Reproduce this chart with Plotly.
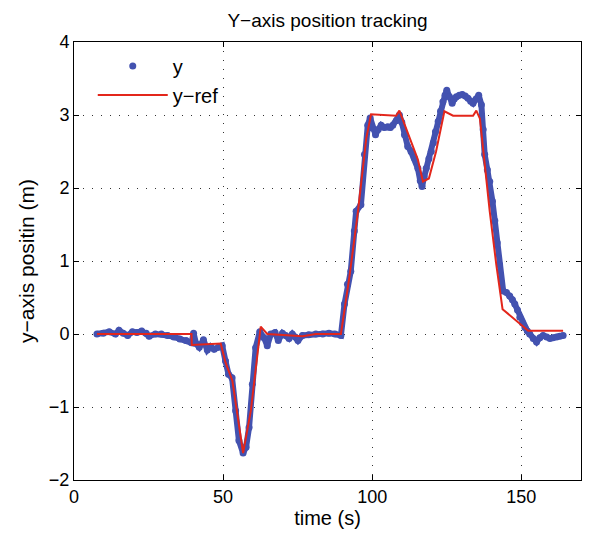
import plotly.graph_objects as go

# Measured y position (blue dots)
t_y = [7.7, 9.8, 11.8, 13.9, 15.1, 16.5, 18.0, 19.6, 21.1, 22.7, 24.2, 25.2, 27.3, 29.3,
       31.4, 33.5, 35.5, 37.6, 39.4, 40.1, 40.9, 42.0, 43.4, 44.7, 45.8, 47.0, 48.4, 49.7,
       50.8, 51.8, 53.0, 54.2, 55.3, 56.7, 57.7, 58.7, 59.8, 60.9, 62.3, 63.7, 64.8, 66.0,
       67.4, 68.5, 69.9, 71.0, 72.1, 73.2, 74.2, 75.1, 76.6, 78.7, 81.1, 83.4, 85.5, 87.5,
       89.5, 90.7, 91.7, 92.8, 94.0, 94.6, 96.2, 97.4, 98.5, 99.3, 100.1, 101.1, 102.0, 103.0,
       104.0, 105.2, 106.1, 106.9, 108.1, 109.1, 109.9, 110.8, 111.9, 113.0, 114.1, 115.3,
       116.1, 116.7, 117.4, 118.1, 119.0, 119.8, 120.5, 121.2, 122.1, 122.9, 123.7, 124.4,
       125.0, 125.9, 126.8, 127.5, 128.2, 129.2, 130.2, 131.2, 132.1, 133.0, 133.8, 134.8,
       135.7, 136.6, 137.2, 137.7, 138.6, 139.4, 140.3, 141.1, 141.9, 142.7, 143.9, 145.0,
       146.1, 147.0, 147.8, 148.7, 149.5, 150.4, 151.2, 152.0, 152.8, 154.0, 155.1, 156.2,
       157.3, 158.5, 159.6, 160.6, 161.8, 162.9, 164.0]
y_meas = [0.00, 0.01, 0.03, 0.00, 0.05, 0.01, -0.02, 0.03, 0.02, 0.04, 0.01, -0.03, 0.00, 0.00,
          -0.02, -0.04, -0.07, -0.09, -0.12, 0.01, -0.13, -0.18, -0.08, -0.22, -0.17, -0.21, -0.18, -0.16,
          -0.37, -0.55, -0.60, -1.05, -1.46, -1.63, -1.55, -1.28, -0.69, -0.19, 0.03, -0.05, -0.16, 0.00,
          0.02, -0.09, 0.01, -0.02, -0.06, 0.00, -0.04, -0.09, -0.02, -0.01, 0.00, 0.00, 0.01, 0.00,
          -0.02, 0.41, 0.68, 0.86, 1.41, 1.68, 1.77, 2.46, 2.86, 2.96, 2.82, 2.73, 2.80, 2.86,
          2.83, 2.84, 2.83, 2.86, 2.92, 3.00, 2.90, 2.73, 2.57, 2.50, 2.41, 2.27,
          2.10, 2.02, 2.15, 2.27, 2.40, 2.50, 2.62, 2.77, 2.91, 3.05, 3.18, 3.27,
          3.34, 3.25, 3.16, 3.22, 3.25, 3.27, 3.28, 3.26, 3.23, 3.19, 3.16, 3.22,
          3.27, 3.14, 2.80, 2.46, 2.25, 2.09, 1.82, 1.55, 1.25, 0.95, 0.59, 0.57,
          0.52, 0.47, 0.41, 0.33, 0.23, 0.15, 0.09, 0.04, 0.00, -0.06, -0.11, -0.05,
          -0.02, -0.04, -0.06, -0.05, -0.04, -0.03, -0.02]

# Reference trajectory (red line)
t_ref = [7.7, 39.4, 39.5, 49.2, 50.8, 53.1, 56.7, 59.3, 62.6, 64.8, 76.6, 81.1, 89.5,
         92.3, 95.1, 98.0, 99.6, 108.0, 109.1, 112.5, 115.3, 117.0, 119.0, 121.4, 124.2,
         127.1, 133.8, 134.9, 136.1, 139.4, 141.6, 143.7, 152.3, 164.0]
y_ref = [0.0, 0.0, -0.15, -0.13, -0.39, -0.64, -1.63, -1.05, 0.10, 0.0, -0.03, 0.0, 0.0,
         0.77, 1.64, 2.68, 3.01, 2.99, 3.06, 2.68, 2.39, 2.09, 2.13, 2.50, 3.05,
         2.99, 2.99, 3.06, 2.95, 1.68, 0.95, 0.34, 0.045, 0.045]

x_ticks = [0, 50, 100, 150]
y_ticks = [-2, -1, 0, 1, 2, 3, 4]

BLUE = "#4352b0"
RED = "#e3261b"
FONT = "Liberation Sans, Arial, Helvetica, sans-serif"

fig = go.Figure()
fig.add_trace(go.Scatter(x=t_y, y=y_meas, mode="lines", line=dict(color=BLUE, width=6),
                         showlegend=False, hoverinfo="skip"))
fig.add_trace(go.Scatter(x=t_y, y=y_meas, mode="markers", name="y",
                         marker=dict(color=BLUE, size=7)))
fig.add_trace(go.Scatter(x=t_ref, y=y_ref, mode="lines", name="y\u2212ref",
                         line=dict(color=RED, width=2)))

axis_common = dict(
    showline=True, linecolor="black", linewidth=1, mirror="ticks",
    ticks="inside", ticklen=5, tickcolor="black",
    showgrid=True, gridcolor="#333333", gridwidth=1, griddash="1px,8px",
    zeroline=False, tickfont=dict(size=18, color="black", family=FONT),
)

fig.update_xaxes(range=[0, 170], tickvals=x_ticks, **axis_common,
                 title=dict(text="time (s)", font=dict(size=20, color="black", family=FONT),
                            standoff=2))
fig.update_yaxes(range=[-2, 4], tickvals=y_ticks, **axis_common,
                 title=dict(text="y\u2212axis positin (m)", font=dict(size=21, color="black", family=FONT),
                            standoff=8))

fig.update_layout(
    width=597, height=536,
    margin=dict(l=74, r=16, t=42, b=56),
    plot_bgcolor="white", paper_bgcolor="white",
    font=dict(family=FONT, size=18, color="black"),
    title=dict(text="Y\u2212axis position tracking", x=(74 + 581) / 2 / 597, xanchor="center",
               y=1 - 20 / 536, yanchor="middle", yref="container",
               font=dict(size=19, color="black", family=FONT)),
    legend=dict(x=0.037, y=0.99, xanchor="left", yanchor="top", bgcolor="rgba(0,0,0,0)",
                borderwidth=0, font=dict(size=20, family=FONT, color="black"),
                tracegroupgap=0, itemwidth=70),
    showlegend=True,
)

fig.write_html("out.html")
